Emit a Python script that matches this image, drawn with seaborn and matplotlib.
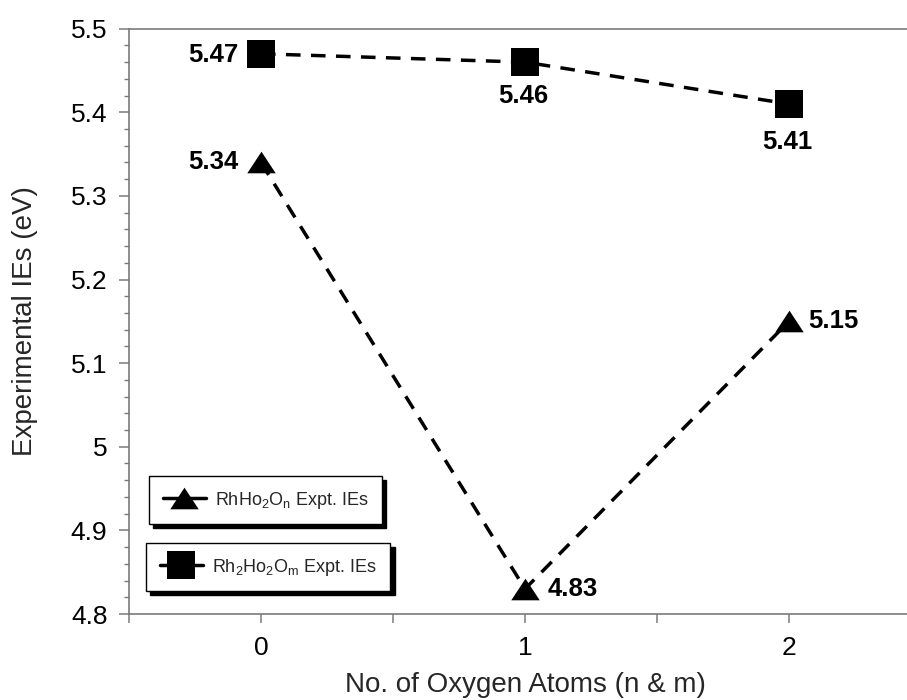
import numpy as np
import pandas as pd
import matplotlib
matplotlib.use("Agg")
import matplotlib.pyplot as plt
from matplotlib.lines import Line2D
from matplotlib.markers import MarkerStyle
from matplotlib.ticker import FixedLocator, MultipleLocator
import seaborn as sns

# Experimental ionization energies (eV) versus number of oxygen atoms
oxygen_atoms = [0, 1, 2]
rhho2on_ie = [5.34, 4.83, 5.15]
rh2ho2om_ie = [5.47, 5.46, 5.41]
series_names = [
    r"RhHo$_\mathregular{2}$O$_\mathregular{n}$ Expt. IEs",
    r"Rh$_\mathregular{2}$Ho$_\mathregular{2}$O$_\mathregular{m}$ Expt. IEs",
]
y_ticks = [4.8, 4.9, 5.0, 5.1, 5.2, 5.3, 5.4, 5.5]
y_tick_labels = ["4.8", "4.9", "5", "5.1", "5.2", "5.3", "5.4", "5.5"]
x_ticks = [0, 1, 2]
x_tick_labels = ["0", "1", "2"]
x_label = "No. of Oxygen Atoms (n & m)"
y_label = "Experimental IEs (eV)"

sns.set_style("ticks")
plt.rcParams["font.family"] = ["Liberation Sans", "DejaVu Sans"]
plt.rcParams["mathtext.fontset"] = "custom"
plt.rcParams["mathtext.rm"] = "Liberation Sans"
plt.rcParams["mathtext.it"] = "Liberation Sans:italic"
plt.rcParams["mathtext.bf"] = "Liberation Sans:bold"

df = pd.DataFrame({
    "n": oxygen_atoms * 2,
    "ie": rhho2on_ie + rh2ho2om_ie,
    "series": [series_names[0]] * len(oxygen_atoms) + [series_names[1]] * len(oxygen_atoms),
})

tri = MarkerStyle(np.array([[-1.0, -0.76], [1.0, -0.76], [0.0, 0.76], [-1.0, -0.76]]))
sq = MarkerStyle("s")

W, H = 907, 700
fig = plt.figure(figsize=(W / 100, H / 100), dpi=100)
ax = fig.add_axes([129 / W, (H - 614) / H, 792 / W, (614 - 28.7) / H])

sns.lineplot(
    data=df, x="n", y="ie", style="series", color="black",
    markers={series_names[0]: tri, series_names[1]: sq},
    dashes={series_names[0]: (4.2, 3), series_names[1]: (4.2, 3)},
    markersize=20.5, markeredgewidth=0, linewidth=2.5,
    legend=False, sort=False, ax=ax,
)

# axis limits, ticks and spines
ax.set_xlim(-0.5, 2.5)
ax.set_ylim(4.8, 5.5)
ax.xaxis.set_major_locator(FixedLocator([-0.5, 0, 0.5, 1, 1.5, 2, 2.5]))
ax.set_xticklabels(["", x_tick_labels[0], "", x_tick_labels[1], "", x_tick_labels[2], ""])
ax.set_yticks(y_ticks)
ax.set_yticklabels(y_tick_labels)
ax.yaxis.set_minor_locator(MultipleLocator(0.02))

spine_col = "#7a7a7a"
for side in ("left", "bottom", "top"):
    ax.spines[side].set_color(spine_col)
    ax.spines[side].set_linewidth(1.2)
ax.spines["right"].set_visible(False)
ax.tick_params(axis="both", which="major", direction="out", color=spine_col,
               width=1.1, length=7.5, labelsize=19, labelcolor="black")
ax.tick_params(axis="y", which="major", pad=8)
ax.tick_params(axis="x", which="major", pad=9, length=6.5)
ax.tick_params(axis="y", which="minor", direction="out", color=spine_col,
               width=1.0, length=3.6)

ax.set_xlabel(x_label, fontsize=20, labelpad=9)
ax.set_ylabel(y_label, fontsize=20, labelpad=24)

# value labels beside each point
label_fmt = dict(fontsize=18.5, fontweight="bold", color="black")
tri_place = [((-16, 0), "right", "center"), ((16, 0), "left", "center"), ((14, 0), "left", "center")]
sq_place = [((-16, -1), "right", "center"), ((-1.5, -16), "center", "top"), ((-1.5, -18.5), "center", "top")]
for xs, ys, places in ((oxygen_atoms, rhho2on_ie, tri_place), (oxygen_atoms, rh2ho2om_ie, sq_place)):
    for xv, yv, (off, ha, va) in zip(xs, ys, places):
        ax.annotate(f"{yv:.2f}", (xv, yv), xytext=off, textcoords="offset points",
                    ha=ha, va=va, **label_fmt)

# two separate framed legend boxes with a hard drop shadow
leg_kw = dict(
    loc="upper left", bbox_transform=fig.transFigure, borderaxespad=0,
    frameon=True, fancybox=False, edgecolor="black", framealpha=1,
    fontsize=13, handlelength=2.4, handletextpad=0.5, borderpad=0.75,
    shadow={"ox": 3, "oy": -3, "facecolor": "black", "edgecolor": "black", "alpha": 1},
)
h_tri = Line2D([], [], color="black", lw=2.5, marker=tri, ms=20.5, mew=0)
h_sq = Line2D([], [], color="black", lw=2.5, marker=sq, ms=20.5, mew=0)
leg1 = ax.legend([h_tri], [series_names[0]], bbox_to_anchor=(149 / W, 1 - 476 / H), **leg_kw)
leg1.get_frame().set_linewidth(1.0)
ax.add_artist(leg1)
leg2 = ax.legend([h_sq], [series_names[1]], bbox_to_anchor=(146 / W, 1 - 543 / H), **leg_kw)
leg2.get_frame().set_linewidth(1.0)

fig.savefig("out.png", dpi=100)
